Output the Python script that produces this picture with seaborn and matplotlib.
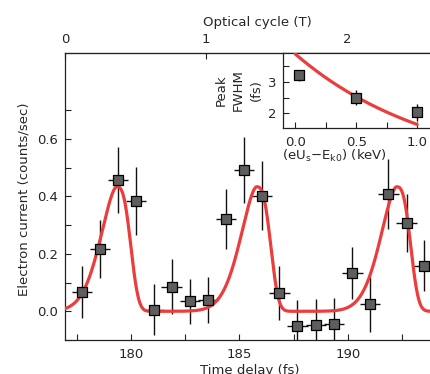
import numpy as np
import matplotlib
matplotlib.use("Agg")
import matplotlib.pyplot as plt
import seaborn as sns
from matplotlib.ticker import FixedLocator, FormatStrFormatter

sns.set_style("ticks")
plt.rcParams["font.family"] = ["DejaVu Sans"]

# ---------------- data ----------------
delay_fs = [177.73, 178.57, 179.39, 180.23, 181.07, 181.87, 182.72, 183.55,
            184.38, 185.21, 186.02, 186.84, 187.67, 188.53, 189.35, 190.20,
            191.01, 191.86, 192.70, 193.52]
current = [0.067, 0.217, 0.458, 0.385, 0.006, 0.085, 0.035, 0.038,
           0.322, 0.493, 0.402, 0.064, -0.050, -0.046, -0.044, 0.134,
           0.024, 0.408, 0.307, 0.159]
current_err = [0.090, 0.100, 0.116, 0.118, 0.090, 0.096, 0.078, 0.080,
               0.104, 0.115, 0.120, 0.095, 0.088, 0.090, 0.090, 0.090,
               0.096, 0.122, 0.102, 0.090]
delay_err = [0.47] * len(delay_fs)

# fit curve parameters (asymmetric peaks)
peak_centers = [179.34, 185.79, 192.24]
peak_amp = 0.434
rise_width, rise_power = 1.08, 1.7
fall_width, fall_power = 0.76, 2.9

# optical cycle axis
cycle_zero_fs = 176.96
cycle_period_fs = 6.5

# inset data
energy_kev = [0.03, 0.50, 1.00]
fwhm_fs = [3.21, 2.50, 2.02]
fwhm_err = [0.17, 0.25, 0.28]
fwhm_fit_amp, fwhm_fit_decay = 3.90, 0.87

# ---------------- figure ----------------
W, H = 430, 374
fig = plt.figure(figsize=(W / 100, H / 100), dpi=100)
ax = fig.add_axes([65 / W, 1 - 340 / H, (W - 65) / W, (340 - 53) / H])

xlim = (176.96, 193.78)
ax.set_xlim(*xlim)
ax.set_ylim(-0.1, 0.9)

red = "#eb3d3d"
face = "#5e5e5e"

def peak_model(t):
    out = np.zeros_like(t)
    for c in peak_centers:
        d = t - c
        left = np.exp(-np.abs(d / rise_width) ** rise_power)
        right = np.exp(-np.abs(d / fall_width) ** fall_power)
        out += peak_amp * np.where(d < 0, left, right)
    return out

t_grid = np.linspace(xlim[0], xlim[1], 800)
ax.errorbar(delay_fs, current, yerr=current_err, xerr=delay_err, fmt="none",
            ecolor="#111111", elinewidth=1.0, capsize=0, zorder=2)
sns.lineplot(x=t_grid, y=peak_model(t_grid), ax=ax, color=red, lw=2.3,
             sort=False, estimator=None, zorder=3)
sns.scatterplot(x=delay_fs, y=current, ax=ax, marker="s", s=60, color=face,
                edgecolor="black", linewidth=0.9, zorder=4)

ax.spines["right"].set_visible(False)
for s in ["left", "bottom", "top"]:
    ax.spines[s].set_linewidth(0.9)
    ax.spines[s].set_color("#222222")

ax.xaxis.set_major_locator(FixedLocator([180, 185, 190]))
ax.xaxis.set_minor_locator(FixedLocator([177.5, 182.5, 187.5, 192.5]))
ax.yaxis.set_major_locator(FixedLocator([0.0, 0.2, 0.4, 0.6]))
ax.yaxis.set_minor_locator(FixedLocator([-0.1, 0.1, 0.3, 0.5, 0.7]))
ax.yaxis.set_major_formatter(FormatStrFormatter("%.1f"))
ax.tick_params(which="both", direction="in", length=4, width=0.8,
               labelsize=9.5, top=False, right=False, color="#222222")
ax.tick_params(axis="x", which="both", pad=6)
ax.tick_params(axis="y", which="both", pad=5)

ax.set_xlabel("Time delay (fs)", fontsize=9.5)
ax.xaxis.set_label_coords(0.507, -0.082)
ax.set_ylabel("Electron current (counts/sec)", fontsize=9.5)
ax.yaxis.set_label_coords(-0.095, 0.49)

secax = ax.secondary_xaxis(
    "top",
    functions=(lambda t: (t - cycle_zero_fs) / cycle_period_fs,
               lambda c: c * cycle_period_fs + cycle_zero_fs))
secax.xaxis.set_major_locator(FixedLocator([0, 1, 2]))
secax.tick_params(direction="in", length=4, width=0.8, labelsize=9.5, pad=5,
                  color="#222222")
secax.set_xlabel("Optical cycle (T)", fontsize=9.5, labelpad=5)
secax.xaxis.label.set_x(0.526)

# ---------------- inset ----------------
ins = fig.add_axes([283 / W, 1 - 128 / H, (W - 283) / W, (128 - 53) / H])
ins.set_facecolor("white")
ins.set_xlim(-0.1, 1.105)
ins.set_ylim(1.52, 3.93)
e_grid = np.linspace(0.0, 1.0, 200)
ins.errorbar(energy_kev, fwhm_fs, yerr=fwhm_err, fmt="none",
             ecolor="#111111", elinewidth=1.0, capsize=0, zorder=2)
sns.lineplot(x=e_grid, y=fwhm_fit_amp * np.exp(-fwhm_fit_decay * e_grid),
             ax=ins, color=red, lw=2.3, sort=False, estimator=None, zorder=3)
sns.scatterplot(x=energy_kev, y=fwhm_fs, ax=ins, marker="s", s=60,
                color=face, edgecolor="black", linewidth=0.9, zorder=4)
ins.spines["right"].set_visible(False)
for s in ["left", "bottom", "top"]:
    ins.spines[s].set_linewidth(0.9)
    ins.spines[s].set_color("#222222")
ins.xaxis.set_major_locator(FixedLocator([0.0, 0.5, 1.0]))
ins.xaxis.set_minor_locator(FixedLocator([0.25, 0.75]))
ins.xaxis.set_major_formatter(FormatStrFormatter("%.1f"))
ins.yaxis.set_major_locator(FixedLocator([2, 3]))
ins.yaxis.set_minor_locator(FixedLocator([2.5, 3.5]))
ins.tick_params(which="both", direction="in", length=4, width=0.8,
                labelsize=9.5, color="#222222")
ins.tick_params(axis="x", which="both", pad=6)
ins.tick_params(axis="y", which="both", pad=5)
ins.set_xlabel("(eU$_{\\rm s}$\u2212E$_{\\rm k0}$) (keV)", fontsize=9.5)
ins.xaxis.set_label_coords(0.347, -0.27)
ins.set_ylabel("Peak\nFWHM\n(fs)", fontsize=9.5, linespacing=1.45)
ins.yaxis.set_label_coords(-0.14, 0.5)

fig.savefig("out.png", dpi=100)
